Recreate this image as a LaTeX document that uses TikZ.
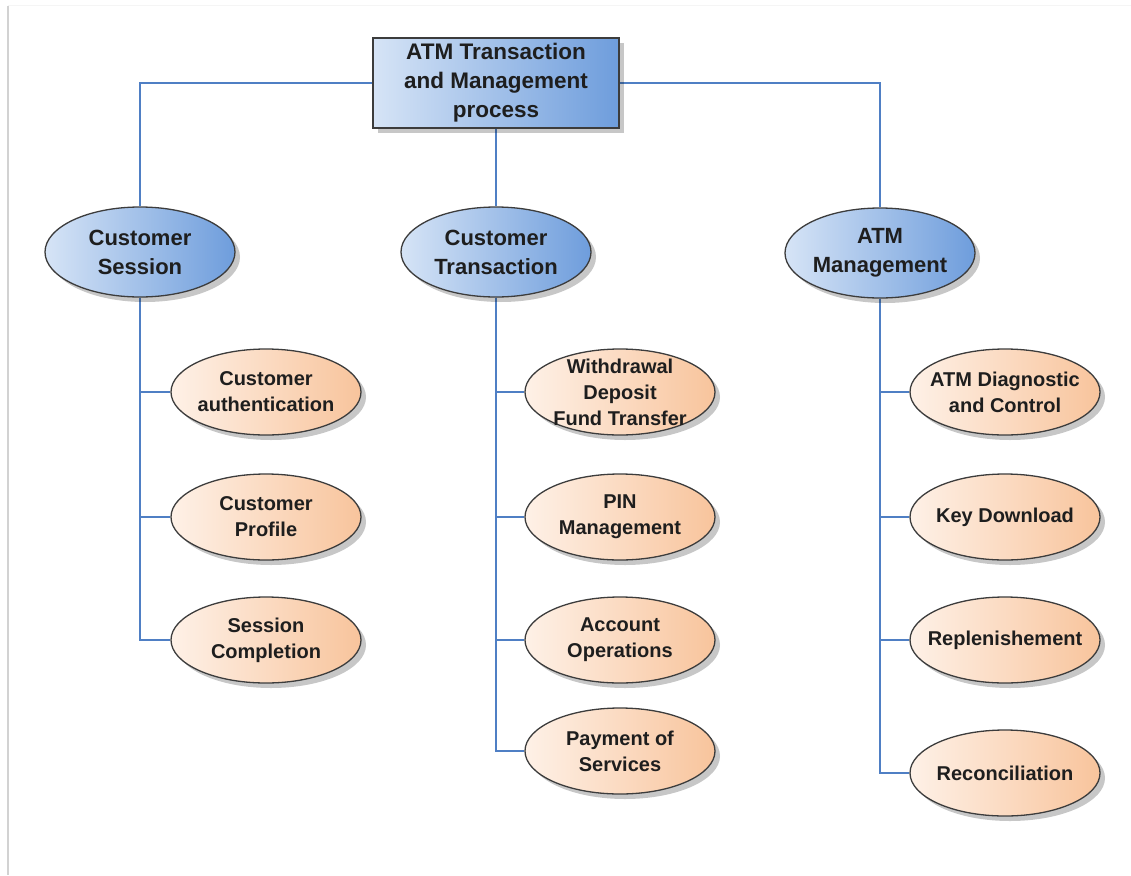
\documentclass[tikz,border=0pt]{standalone}
\usepackage{fontspec}
\setmainfont{Liberation Sans}
\usetikzlibrary{shapes.geometric,shadows,backgrounds}
\definecolor{linkblue}{HTML}{4F7FC4}
\definecolor{bordergray}{HTML}{3C3C3C}
\definecolor{textdark}{HTML}{1E1E1E}
\definecolor{blueL}{HTML}{D6E4F6}
\definecolor{blueR}{HTML}{6E9DDC}
\definecolor{orL}{HTML}{FEF1E7}
\definecolor{orR}{HTML}{F8C49C}
\begin{document}
\begin{tikzpicture}[x=1pt,y=-1pt,
  base/.style={draw=bordergray, line width=1.3pt, text=textdark, align=center,
    drop shadow={shadow xshift=5pt, shadow yshift=-5pt, opacity=0.22, fill=black}},
  topbox/.style={base, rectangle, inner sep=0pt, minimum width=246pt, minimum height=90pt,
    left color=blueL, right color=blueR, font=\bfseries\fontsize{22.5}{29}\selectfont},
  lvlone/.style={base, ellipse, inner sep=-14pt, minimum width=190pt, minimum height=90pt,
    left color=blueL, right color=blueR, font=\bfseries\fontsize{22}{29}\selectfont},
  lvltwo/.style={base, ellipse, inner sep=-16pt, minimum width=190pt, minimum height=86pt,
    left color=orL, right color=orR, font=\bfseries\fontsize{20}{26}\selectfont},
  link/.style={draw=linkblue, line width=1.5pt}]
\useasboundingbox (0,0) rectangle (1131,875);

\node[topbox] (top) at (496,83) {ATM Transaction\\and Management\\process};

\node[lvlone] (cs) at (140,252) {Customer\\Session};
\node[lvlone] (ct) at (496,252) {Customer\\Transaction};
\node[lvlone] (am) at (880,253) {ATM\\Management};

\node[lvltwo] (ca) at (266,392) {Customer\\authentication};
\node[lvltwo] (cp) at (266,517) {Customer\\Profile};
\node[lvltwo] (sc) at (266,640) {Session\\Completion};

\node[lvltwo] (wd) at (620,392) {Withdrawal\\Deposit\\Fund Transfer};
\node[lvltwo] (pm) at (620,517) {PIN\\Management};
\node[lvltwo] (ao) at (620,640) {Account\\Operations};
\node[lvltwo] (ps) at (620,751) {Payment of\\Services};

\node[lvltwo] (dc) at (1005,392) {ATM Diagnostic\\and Control};
\node[lvltwo] (kd) at (1005,517) {Key Download};
\node[lvltwo] (rp) at (1005,640) {Replenishement};
\node[lvltwo] (rc) at (1005,773) {Reconciliation};

\begin{scope}[on background layer]
\fill[white] (0,0) rectangle (1131,875);
\draw[gray!35, line width=2pt] (8,6) -- (8,875);
\draw[gray!8, line width=1pt] (8,6) -- (1131,6);
\draw[link] (top.west) -| (cs.north);
\draw[link] (top.east) -| (am.north);
\draw[link] (top.south) -- (ct.north);
\foreach \c in {ca,cp,sc} \draw[link] (cs.south) |- (\c.west);
\foreach \c in {wd,pm,ao,ps} \draw[link] (ct.south) |- (\c.west);
\foreach \c in {dc,kd,rp,rc} \draw[link] (am.south) |- (\c.west);
\end{scope}
\end{tikzpicture}
\end{document}
